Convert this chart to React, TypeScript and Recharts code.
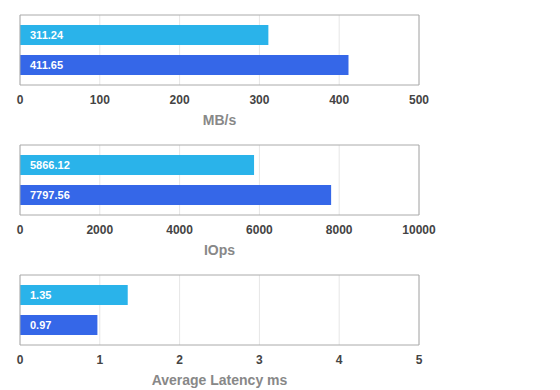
import { BarChart, Bar, XAxis, YAxis, CartesianGrid, Cell, LabelList } from 'recharts';

const categories = ['Run A', 'Run B'];
const mbps = [311.24, 411.65];
const iops = [5866.12, 7797.56];
const latency = [1.35, 0.97];

const mbpsTicks = [0, 100, 200, 300, 400, 500];
const iopsTicks = [0, 2000, 4000, 6000, 8000, 10000];
const latencyTicks = [0, 1, 2, 3, 4, 5];

const colors = ['#2ab3ea', '#3567e8'];
const font = 'Helvetica, Arial, "Liberation Sans", sans-serif';
const border = '#aaaaaa';

function MetricChart({ values, ticks, label }: { values: number[]; ticks: number[]; label: string }) {
  const data = categories.map((name, i) => ({ name, value: values[i] }));
  const max = ticks[ticks.length - 1];
  return (
    <BarChart
      width={560}
      height={130}
      data={data}
      layout="vertical"
      margin={{ top: 14, right: 140, left: 19, bottom: 0 }}
      style={{ fontFamily: font }}
    >
      <CartesianGrid horizontal={false} vertical={true} stroke="#e6e6e6" />
      <XAxis
        type="number"
        domain={[0, max]}
        ticks={ticks}
        interval={0}
        height={45}
        tickLine={false}
        tickMargin={4}
        axisLine={{ stroke: border }}
        tick={{ fill: '#444', fontSize: 12, fontWeight: 600 }}
        label={{ value: label, position: 'insideBottom', offset: 5, fill: '#888', fontSize: 14, fontWeight: 700 }}
      />
      <XAxis xAxisId="top" orientation="top" type="number" domain={[0, max]} height={1} tick={false} tickLine={false} axisLine={{ stroke: border }} />
      <YAxis type="category" dataKey="name" width={1} tick={false} tickLine={false} axisLine={{ stroke: border }} padding={{ top: 5, bottom: 5 }} />
      <YAxis yAxisId="right" orientation="right" type="category" dataKey="name" width={1} tick={false} tickLine={false} axisLine={{ stroke: border }} />
      <Bar dataKey="value" barSize={20} isAnimationActive={false}>
        {data.map((d, i) => (
          <Cell key={d.name} fill={colors[i]} />
        ))}
        <LabelList dataKey="value" position="insideLeft" offset={10} fill="#fff" fontSize={11} fontWeight={600} />
      </Bar>
    </BarChart>
  );
}

export default function App() {
  return (
    <div style={{ position: 'absolute', left: 0, top: 0, width: 560, height: 390, background: '#fff' }}>
      <MetricChart values={mbps} ticks={mbpsTicks} label="MB/s" />
      <MetricChart values={iops} ticks={iopsTicks} label="IOps" />
      <MetricChart values={latency} ticks={latencyTicks} label="Average Latency ms" />
    </div>
  );
}
